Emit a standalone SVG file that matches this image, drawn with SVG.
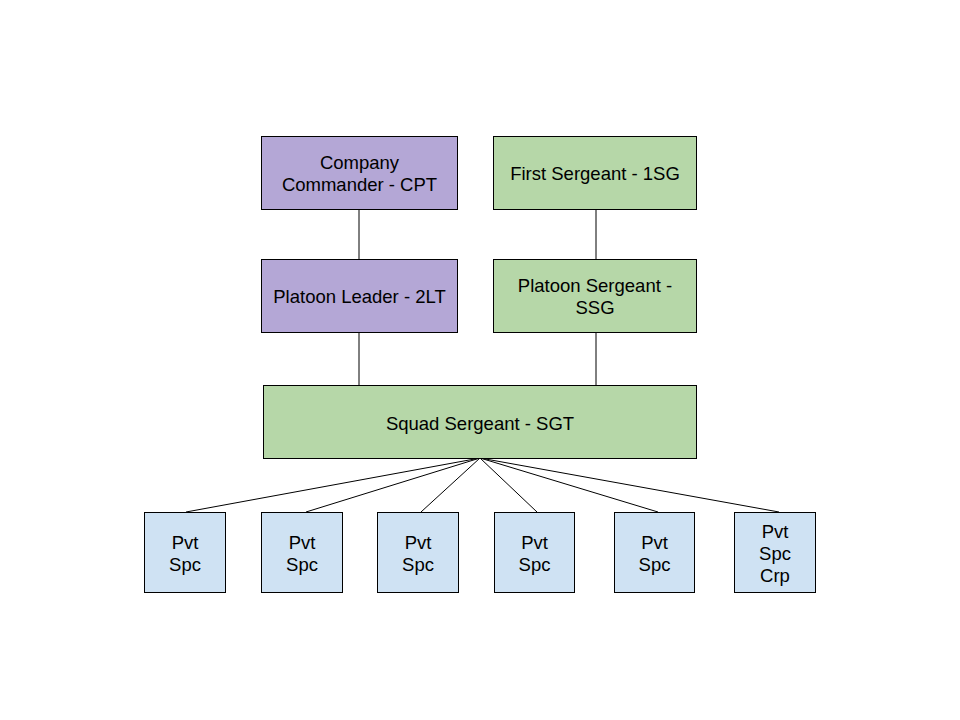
<svg xmlns="http://www.w3.org/2000/svg" width="960" height="720" viewBox="0 0 960 720">
<style>
.box{stroke:#000;stroke-width:1}
.p{fill:#b4a7d6}.g{fill:#b6d7a8}.b{fill:#cfe2f3}
text{font-family:"Liberation Sans",Arial,sans-serif;font-size:18.5px;fill:#000;text-anchor:middle}
.c line{stroke:#000;stroke-width:1}
</style>
<rect width="960" height="720" fill="#fff"/>
<g class="c" id="connectors">
<line x1="359" y1="209" x2="359" y2="259"/>
<line x1="596" y1="209" x2="596" y2="259"/>
<line x1="359" y1="332" x2="359" y2="385"/>
<line x1="596" y1="332" x2="596" y2="385"/>
<line x1="480" y1="458" x2="186" y2="512"/>
<line x1="480" y1="458" x2="306" y2="512"/>
<line x1="480" y1="458" x2="421" y2="512"/>
<line x1="480" y1="458" x2="537" y2="512"/>
<line x1="480" y1="458" x2="658" y2="512"/>
<line x1="480" y1="458" x2="779" y2="512"/>
</g>
<g id="cc"><rect class="box p" x="261.5" y="136.5" width="196" height="73"/><text x="359.5" y="169">Company</text><text x="359.5" y="191">Commander - CPT</text></g>
<g id="fs"><rect class="box g" x="493.5" y="136.5" width="203" height="73"/><text x="595" y="180">First Sergeant - 1SG</text></g>
<g id="pl"><rect class="box p" x="261.5" y="259.5" width="196" height="73"/><text x="359.5" y="303">Platoon Leader - 2LT</text></g>
<g id="ps"><rect class="box g" x="493.5" y="259.5" width="203" height="73"/><text x="595" y="292">Platoon Sergeant -</text><text x="595" y="314">SSG</text></g>
<g id="sq"><rect class="box g" x="263.5" y="385.5" width="433" height="73"/><text x="480" y="430">Squad Sergeant - SGT</text></g>
<g id="p1"><rect class="box b" x="144.5" y="512.5" width="81" height="80"/><text x="185" y="549">Pvt</text><text x="185" y="571">Spc</text></g>
<g id="p2"><rect class="box b" x="261.5" y="512.5" width="81" height="80"/><text x="302" y="549">Pvt</text><text x="302" y="571">Spc</text></g>
<g id="p3"><rect class="box b" x="377.5" y="512.5" width="81" height="80"/><text x="418" y="549">Pvt</text><text x="418" y="571">Spc</text></g>
<g id="p4"><rect class="box b" x="494.5" y="512.5" width="80" height="80"/><text x="534.5" y="549">Pvt</text><text x="534.5" y="571">Spc</text></g>
<g id="p5"><rect class="box b" x="614.5" y="512.5" width="80" height="80"/><text x="654.5" y="549">Pvt</text><text x="654.5" y="571">Spc</text></g>
<g id="p6"><rect class="box b" x="734.5" y="512.5" width="81" height="80"/><text x="775" y="538">Pvt</text><text x="775" y="560">Spc</text><text x="775" y="582">Crp</text></g>
</svg>
